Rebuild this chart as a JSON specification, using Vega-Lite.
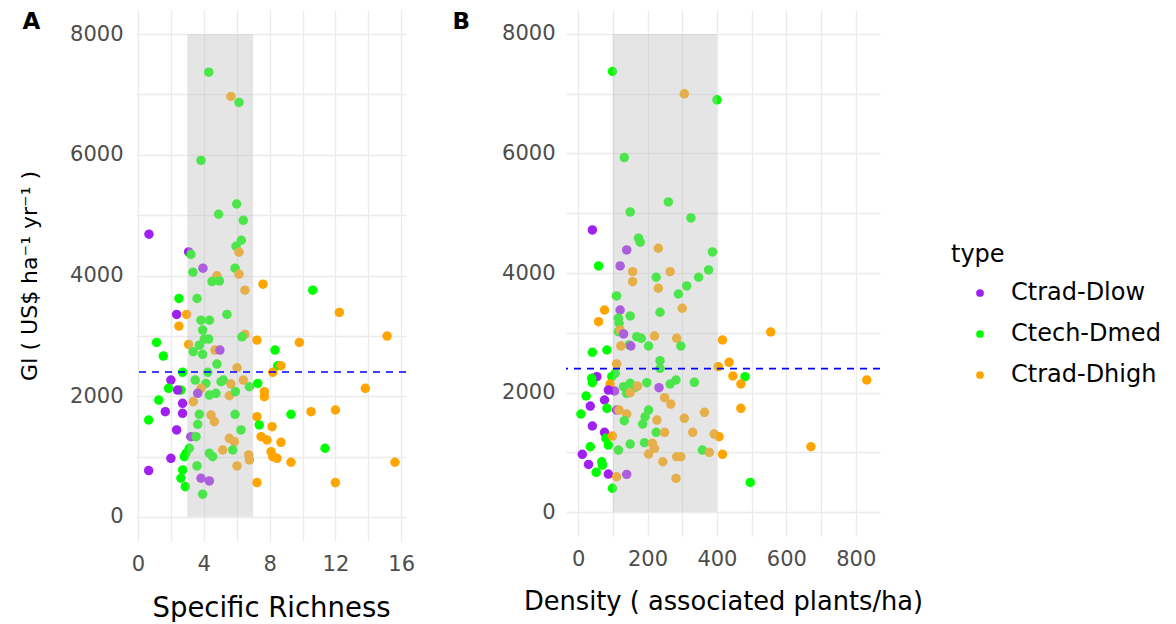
{
  "$schema": "https://vega.github.io/schema/vega-lite/v6.json",
  "padding": {"left": 18, "top": 10, "right": 0, "bottom": 0},
  "background": "white",
  "spacing": 37,
  "config": {
    "font": "DejaVu Sans",
    "view": {"stroke": null},
    "axis": {
      "grid": true, "gridColor": "#ebebeb", "gridWidth": 1.3,
      "domain": false, "ticks": false,
      "labelColor": "#4d4d4d", "labelFontSize": 21, "labelFont": "DejaVu Sans",
      "titleFont": "DejaVu Sans", "titleFontWeight": "normal", "titleColor": "#000000", "titleFontSize": 26.5
    },
    "title": {"font": "DejaVu Sans", "fontWeight": "bold", "fontSize": 23, "anchor": "start", "frame": "bounds", "color": "#000000"}
  },
  "datasets": {
    "a": [
      {"x":4.3,"y":7370,"t":"Ctech-Dmed"},{"x":5.65,"y":6967,"t":"Ctrad-Dhigh"},{"x":6.14,"y":6868,"t":"Ctech-Dmed"},
      {"x":3.83,"y":5908,"t":"Ctech-Dmed"},{"x":6.0,"y":5185,"t":"Ctech-Dmed"},{"x":4.9,"y":5015,"t":"Ctech-Dmed"},
      {"x":6.4,"y":4915,"t":"Ctech-Dmed"},{"x":0.67,"y":4684,"t":"Ctrad-Dlow"},{"x":6.28,"y":4584,"t":"Ctech-Dmed"},
      {"x":5.96,"y":4485,"t":"Ctech-Dmed"},{"x":6.14,"y":4386,"t":"Ctrad-Dhigh"},{"x":3.08,"y":4391,"t":"Ctrad-Dlow"},
      {"x":3.22,"y":4348,"t":"Ctech-Dmed"},{"x":3.95,"y":4121,"t":"Ctrad-Dlow"},{"x":3.34,"y":4055,"t":"Ctech-Dmed"},
      {"x":5.9,"y":4121,"t":"Ctech-Dmed"},{"x":4.8,"y":3994,"t":"Ctrad-Dhigh"},{"x":6.14,"y":4022,"t":"Ctrad-Dhigh"},
      {"x":4.5,"y":3900,"t":"Ctech-Dmed"},{"x":4.95,"y":3910,"t":"Ctech-Dmed"},{"x":6.5,"y":3757,"t":"Ctrad-Dhigh"},
      {"x":7.6,"y":3856,"t":"Ctrad-Dhigh"},{"x":2.49,"y":3619,"t":"Ctech-Dmed"},{"x":3.59,"y":3619,"t":"Ctech-Dmed"},
      {"x":2.35,"y":3355,"t":"Ctrad-Dlow"},{"x":2.96,"y":3355,"t":"Ctrad-Dhigh"},{"x":2.49,"y":3161,"t":"Ctrad-Dhigh"},
      {"x":3.83,"y":3260,"t":"Ctech-Dmed"},{"x":4.34,"y":3260,"t":"Ctech-Dmed"},{"x":5.41,"y":3355,"t":"Ctech-Dmed"},
      {"x":3.93,"y":3095,"t":"Ctech-Dmed"},{"x":4.03,"y":2946,"t":"Ctech-Dmed"},{"x":4.3,"y":2946,"t":"Ctech-Dmed"},
      {"x":6.5,"y":3023,"t":"Ctrad-Dhigh"},{"x":6.32,"y":2984,"t":"Ctech-Dmed"},{"x":3.08,"y":2858,"t":"Ctrad-Dhigh"},
      {"x":3.73,"y":2846,"t":"Ctech-Dmed"},{"x":4.68,"y":2764,"t":"Ctrad-Dhigh"},{"x":4.98,"y":2764,"t":"Ctrad-Dlow"},
      {"x":3.36,"y":2736,"t":"Ctech-Dmed"},{"x":3.93,"y":2693,"t":"Ctech-Dmed"},{"x":7.23,"y":2929,"t":"Ctrad-Dhigh"},
      {"x":1.13,"y":2891,"t":"Ctech-Dmed"},{"x":1.54,"y":2665,"t":"Ctech-Dmed"},{"x":4.8,"y":2532,"t":"Ctech-Dmed"},
      {"x":6.02,"y":2471,"t":"Ctrad-Dhigh"},{"x":2.71,"y":2395,"t":"Ctech-Dmed"},{"x":4.24,"y":2395,"t":"Ctech-Dmed"},
      {"x":6.4,"y":2267,"t":"Ctrad-Dhigh"},{"x":2.0,"y":2267,"t":"Ctrad-Dlow"},{"x":1.86,"y":2130,"t":"Ctech-Dmed"},
      {"x":2.61,"y":2102,"t":"Ctech-Dmed"},{"x":2.41,"y":2102,"t":"Ctrad-Dlow"},{"x":3.48,"y":2267,"t":"Ctech-Dmed"},
      {"x":4.13,"y":2212,"t":"Ctech-Dmed"},{"x":3.83,"y":2130,"t":"Ctrad-Dhigh"},{"x":3.63,"y":2047,"t":"Ctrad-Dlow"},
      {"x":4.34,"y":2019,"t":"Ctech-Dmed"},{"x":4.74,"y":2047,"t":"Ctech-Dmed"},{"x":5.05,"y":2240,"t":"Ctech-Dmed"},
      {"x":5.19,"y":2267,"t":"Ctech-Dmed"},{"x":5.65,"y":2201,"t":"Ctrad-Dhigh"},{"x":5.55,"y":2007,"t":"Ctrad-Dhigh"},
      {"x":5.92,"y":2074,"t":"Ctech-Dmed"},{"x":6.77,"y":2156,"t":"Ctech-Dmed"},{"x":7.28,"y":2212,"t":"Ctech-Dmed"},
      {"x":7.68,"y":2074,"t":"Ctrad-Dhigh"},{"x":7.68,"y":1991,"t":"Ctrad-Dhigh"},{"x":1.26,"y":1936,"t":"Ctech-Dmed"},
      {"x":1.66,"y":1743,"t":"Ctrad-Dlow"},{"x":0.65,"y":1605,"t":"Ctech-Dmed"},{"x":2.71,"y":1881,"t":"Ctrad-Dlow"},
      {"x":2.71,"y":1716,"t":"Ctrad-Dlow"},{"x":3.36,"y":1908,"t":"Ctrad-Dhigh"},{"x":3.73,"y":1699,"t":"Ctech-Dmed"},
      {"x":3.63,"y":1534,"t":"Ctech-Dmed"},{"x":4.44,"y":1688,"t":"Ctrad-Dhigh"},{"x":4.64,"y":1577,"t":"Ctrad-Dhigh"},
      {"x":5.9,"y":1699,"t":"Ctech-Dmed"},{"x":7.23,"y":1660,"t":"Ctrad-Dhigh"},{"x":7.37,"y":1523,"t":"Ctech-Dmed"},
      {"x":8.15,"y":1494,"t":"Ctrad-Dhigh"},{"x":2.35,"y":1440,"t":"Ctrad-Dlow"},{"x":3.22,"y":1329,"t":"Ctrad-Dlow"},
      {"x":3.53,"y":1329,"t":"Ctech-Dmed"},{"x":6.26,"y":1440,"t":"Ctech-Dmed"},{"x":5.55,"y":1302,"t":"Ctrad-Dhigh"},
      {"x":5.86,"y":1246,"t":"Ctrad-Dhigh"},{"x":7.48,"y":1329,"t":"Ctrad-Dhigh"},{"x":7.84,"y":1274,"t":"Ctrad-Dhigh"},
      {"x":3.12,"y":1137,"t":"Ctech-Dmed"},{"x":2.92,"y":1054,"t":"Ctech-Dmed"},{"x":2.82,"y":998,"t":"Ctech-Dmed"},
      {"x":5.15,"y":1109,"t":"Ctrad-Dhigh"},{"x":5.76,"y":1109,"t":"Ctech-Dmed"},{"x":4.34,"y":1054,"t":"Ctech-Dmed"},
      {"x":4.54,"y":998,"t":"Ctech-Dmed"},{"x":6.73,"y":1026,"t":"Ctrad-Dhigh"},{"x":6.77,"y":943,"t":"Ctrad-Dhigh"},
      {"x":8.09,"y":1081,"t":"Ctrad-Dhigh"},{"x":8.19,"y":998,"t":"Ctrad-Dhigh"},{"x":2.0,"y":971,"t":"Ctrad-Dlow"},
      {"x":0.65,"y":767,"t":"Ctrad-Dlow"},{"x":3.59,"y":844,"t":"Ctech-Dmed"},{"x":6.02,"y":844,"t":"Ctrad-Dhigh"},
      {"x":2.72,"y":778,"t":"Ctech-Dmed"},{"x":2.61,"y":640,"t":"Ctech-Dmed"},{"x":2.88,"y":501,"t":"Ctech-Dmed"},
      {"x":3.83,"y":640,"t":"Ctrad-Dlow"},{"x":4.34,"y":596,"t":"Ctrad-Dlow"},{"x":7.23,"y":568,"t":"Ctrad-Dhigh"},
      {"x":3.93,"y":376,"t":"Ctech-Dmed"},{"x":10.62,"y":3757,"t":"Ctech-Dmed"},{"x":12.24,"y":3388,"t":"Ctrad-Dhigh"},
      {"x":15.14,"y":2996,"t":"Ctrad-Dhigh"},{"x":9.81,"y":2891,"t":"Ctrad-Dhigh"},{"x":8.33,"y":2764,"t":"Ctech-Dmed"},
      {"x":8.49,"y":2504,"t":"Ctech-Dmed"},{"x":8.69,"y":2504,"t":"Ctrad-Dhigh"},{"x":8.19,"y":2395,"t":"Ctrad-Dhigh"},
      {"x":13.82,"y":2130,"t":"Ctrad-Dhigh"},{"x":9.3,"y":1699,"t":"Ctech-Dmed"},{"x":10.52,"y":1743,"t":"Ctrad-Dhigh"},
      {"x":12.0,"y":1771,"t":"Ctrad-Dhigh"},{"x":8.69,"y":1236,"t":"Ctrad-Dhigh"},{"x":8.45,"y":971,"t":"Ctrad-Dhigh"},
      {"x":9.3,"y":905,"t":"Ctrad-Dhigh"},{"x":11.37,"y":1137,"t":"Ctech-Dmed"},{"x":15.62,"y":905,"t":"Ctrad-Dhigh"},
      {"x":12.0,"y":568,"t":"Ctrad-Dhigh"}
    ],
    "b": [
      {"x":99,"y":7371,"t":"Ctech-Dmed"},{"x":306,"y":6997,"t":"Ctrad-Dhigh"},{"x":400,"y":6897,"t":"Ctech-Dmed"},
      {"x":133,"y":5931,"t":"Ctech-Dmed"},{"x":260,"y":5189,"t":"Ctech-Dmed"},{"x":150,"y":5022,"t":"Ctech-Dmed"},
      {"x":325,"y":4922,"t":"Ctech-Dmed"},{"x":41,"y":4721,"t":"Ctrad-Dlow"},{"x":174,"y":4582,"t":"Ctech-Dmed"},
      {"x":179,"y":4515,"t":"Ctech-Dmed"},{"x":140,"y":4386,"t":"Ctrad-Dlow"},{"x":231,"y":4414,"t":"Ctrad-Dhigh"},
      {"x":387,"y":4352,"t":"Ctech-Dmed"},{"x":59,"y":4118,"t":"Ctech-Dmed"},{"x":121,"y":4118,"t":"Ctrad-Dlow"},
      {"x":157,"y":4023,"t":"Ctrad-Dhigh"},{"x":265,"y":4023,"t":"Ctrad-Dhigh"},{"x":376,"y":4051,"t":"Ctech-Dmed"},
      {"x":225,"y":3929,"t":"Ctech-Dmed"},{"x":347,"y":3929,"t":"Ctech-Dmed"},{"x":157,"y":3855,"t":"Ctrad-Dhigh"},
      {"x":231,"y":3745,"t":"Ctrad-Dhigh"},{"x":313,"y":3783,"t":"Ctech-Dmed"},{"x":289,"y":3649,"t":"Ctech-Dmed"},
      {"x":111,"y":3616,"t":"Ctech-Dmed"},{"x":76,"y":3381,"t":"Ctrad-Dhigh"},{"x":59,"y":3186,"t":"Ctrad-Dhigh"},
      {"x":121,"y":3381,"t":"Ctrad-Dlow"},{"x":150,"y":3281,"t":"Ctech-Dmed"},{"x":236,"y":3343,"t":"Ctech-Dmed"},
      {"x":300,"y":3410,"t":"Ctrad-Dhigh"},{"x":116,"y":3242,"t":"Ctech-Dmed"},{"x":118,"y":3159,"t":"Ctech-Dmed"},
      {"x":116,"y":3019,"t":"Ctech-Dmed"},{"x":121,"y":3047,"t":"Ctrad-Dhigh"},{"x":131,"y":2980,"t":"Ctrad-Dlow"},
      {"x":169,"y":2935,"t":"Ctech-Dmed"},{"x":182,"y":2908,"t":"Ctech-Dmed"},{"x":220,"y":2946,"t":"Ctrad-Dhigh"},
      {"x":203,"y":2779,"t":"Ctech-Dmed"},{"x":147,"y":2796,"t":"Ctech-Dmed"},{"x":123,"y":2779,"t":"Ctrad-Dhigh"},
      {"x":152,"y":2779,"t":"Ctrad-Dlow"},{"x":284,"y":2908,"t":"Ctrad-Dhigh"},{"x":296,"y":2779,"t":"Ctech-Dmed"},
      {"x":416,"y":2879,"t":"Ctrad-Dhigh"},{"x":555,"y":3013,"t":"Ctrad-Dhigh"},{"x":41,"y":2673,"t":"Ctech-Dmed"},
      {"x":83,"y":2712,"t":"Ctech-Dmed"},{"x":236,"y":2533,"t":"Ctech-Dmed"},{"x":111,"y":2478,"t":"Ctrad-Dhigh"},
      {"x":236,"y":2405,"t":"Ctech-Dmed"},{"x":404,"y":2432,"t":"Ctrad-Dhigh"},{"x":435,"y":2506,"t":"Ctrad-Dhigh"},
      {"x":107,"y":2322,"t":"Ctech-Dmed"},{"x":97,"y":2265,"t":"Ctech-Dmed"},{"x":54,"y":2265,"t":"Ctrad-Dlow"},
      {"x":39,"y":2238,"t":"Ctech-Dmed"},{"x":41,"y":2165,"t":"Ctech-Dmed"},{"x":446,"y":2277,"t":"Ctrad-Dhigh"},
      {"x":481,"y":2265,"t":"Ctech-Dmed"},{"x":469,"y":2143,"t":"Ctrad-Dhigh"},{"x":832,"y":2210,"t":"Ctrad-Dhigh"},
      {"x":92,"y":2143,"t":"Ctrad-Dhigh"},{"x":131,"y":2098,"t":"Ctech-Dmed"},{"x":150,"y":2154,"t":"Ctech-Dmed"},
      {"x":164,"y":2087,"t":"Ctech-Dmed"},{"x":140,"y":1987,"t":"Ctech-Dmed"},{"x":150,"y":1997,"t":"Ctrad-Dhigh"},
      {"x":171,"y":2109,"t":"Ctrad-Dhigh"},{"x":87,"y":2042,"t":"Ctrad-Dlow"},{"x":105,"y":2026,"t":"Ctrad-Dlow"},
      {"x":233,"y":2081,"t":"Ctrad-Dlow"},{"x":198,"y":2165,"t":"Ctech-Dmed"},{"x":265,"y":2143,"t":"Ctech-Dmed"},
      {"x":282,"y":2210,"t":"Ctech-Dmed"},{"x":335,"y":2171,"t":"Ctech-Dmed"},{"x":23,"y":1942,"t":"Ctech-Dmed"},
      {"x":35,"y":1774,"t":"Ctrad-Dlow"},{"x":76,"y":1875,"t":"Ctrad-Dlow"},{"x":83,"y":1736,"t":"Ctech-Dmed"},
      {"x":8,"y":1641,"t":"Ctech-Dmed"},{"x":249,"y":1914,"t":"Ctrad-Dhigh"},{"x":267,"y":1808,"t":"Ctrad-Dhigh"},
      {"x":111,"y":1707,"t":"Ctrad-Dlow"},{"x":118,"y":1707,"t":"Ctrad-Dhigh"},{"x":140,"y":1641,"t":"Ctrad-Dhigh"},
      {"x":203,"y":1707,"t":"Ctech-Dmed"},{"x":193,"y":1595,"t":"Ctech-Dmed"},{"x":186,"y":1473,"t":"Ctech-Dmed"},
      {"x":364,"y":1669,"t":"Ctrad-Dhigh"},{"x":306,"y":1568,"t":"Ctrad-Dhigh"},{"x":469,"y":1736,"t":"Ctrad-Dhigh"},
      {"x":133,"y":1528,"t":"Ctech-Dmed"},{"x":227,"y":1540,"t":"Ctrad-Dhigh"},{"x":41,"y":1440,"t":"Ctrad-Dlow"},
      {"x":76,"y":1334,"t":"Ctrad-Dlow"},{"x":80,"y":1234,"t":"Ctech-Dmed"},{"x":87,"y":1122,"t":"Ctech-Dmed"},
      {"x":99,"y":1272,"t":"Ctrad-Dhigh"},{"x":225,"y":1334,"t":"Ctech-Dmed"},{"x":249,"y":1334,"t":"Ctrad-Dhigh"},
      {"x":330,"y":1334,"t":"Ctrad-Dhigh"},{"x":392,"y":1306,"t":"Ctrad-Dhigh"},{"x":406,"y":1261,"t":"Ctrad-Dhigh"},
      {"x":35,"y":1093,"t":"Ctech-Dmed"},{"x":116,"y":1038,"t":"Ctech-Dmed"},{"x":150,"y":1138,"t":"Ctech-Dmed"},
      {"x":191,"y":1160,"t":"Ctech-Dmed"},{"x":214,"y":1150,"t":"Ctrad-Dhigh"},{"x":220,"y":1066,"t":"Ctrad-Dhigh"},
      {"x":203,"y":971,"t":"Ctrad-Dhigh"},{"x":244,"y":842,"t":"Ctrad-Dhigh"},{"x":284,"y":926,"t":"Ctrad-Dhigh"},
      {"x":296,"y":926,"t":"Ctrad-Dhigh"},{"x":358,"y":1038,"t":"Ctech-Dmed"},{"x":378,"y":999,"t":"Ctrad-Dhigh"},
      {"x":416,"y":966,"t":"Ctrad-Dhigh"},{"x":671,"y":1093,"t":"Ctrad-Dhigh"},{"x":12,"y":966,"t":"Ctrad-Dlow"},
      {"x":30,"y":798,"t":"Ctrad-Dlow"},{"x":68,"y":842,"t":"Ctech-Dmed"},{"x":70,"y":787,"t":"Ctech-Dmed"},
      {"x":52,"y":665,"t":"Ctech-Dmed"},{"x":87,"y":636,"t":"Ctrad-Dlow"},{"x":111,"y":591,"t":"Ctrad-Dhigh"},
      {"x":140,"y":631,"t":"Ctrad-Dlow"},{"x":99,"y":397,"t":"Ctech-Dmed"},{"x":282,"y":564,"t":"Ctrad-Dhigh"},
      {"x":496,"y":497,"t":"Ctech-Dmed"}
    ]
  },
  "hconcat": [
    {
      "width": 270, "height": 531,
      "title": {"text": "A", "offset": -24, "dx": 4},
      "layer": [
        {
          "data": {"name": "a"},
          "mark": {"type": "circle", "size": 90, "opacity": 1},
          "encoding": {
            "x": {"field": "x", "type": "quantitative", "scale": {"domain": [-0.12, 16.29], "nice": false, "zero": false},
                  "axis": {"values": [0,2,4,6,8,10,12,14,16], "labelExpr": "datum.value % 4 === 0 ? datum.label : ''", "title": "Specific Richness", "titleFontSize": 27.5, "labelPadding": 12, "titlePadding": 20}},
            "y": {"field": "y", "type": "quantitative", "scale": {"domain": [-400, 8400], "nice": false, "zero": false},
                  "axis": {"values": [0,1000,2000,3000,4000,5000,6000,7000,8000], "labelExpr": "datum.value % 2000 === 0 ? datum.label : ''", "format": "d", "title": "GI ( US$ ha⁻¹ yr⁻¹ )", "titleFontSize": 22, "labelPadding": 13, "titlePadding": 28}},
            "color": {"field": "t", "type": "nominal",
                      "scale": {"domain": ["Ctrad-Dlow", "Ctech-Dmed", "Ctrad-Dhigh"], "range": ["#a020f0", "#00ff00", "#ffa500"]},
                      "legend": {"title": "type", "orient": "none", "legendX": 815, "legendY": 233,
                                 "titleFontSize": 24, "titleFontWeight": "normal", "titleColor": "#000000", "titlePadding": 14,
                                 "labelFontSize": 24, "labelColor": "#000000", "symbolType": "circle", "symbolSize": 60,
                                 "symbolStrokeWidth": 0, "symbolOpacity": 1, "rowPadding": 17, "labelOffset": 19, "symbolOffset": 17}}
          }
        },
        {
          "data": {"values": [{"x": 3, "x2": 7, "y": 0, "y2": 8000}]},
          "mark": {"type": "rect", "color": "#bebebe", "opacity": 0.4},
          "encoding": {
            "x": {"field": "x", "type": "quantitative", "scale": {"domain": [-0.12, 16.29], "nice": false, "zero": false},
                  "axis": {"values": [0,2,4,6,8,10,12,14,16], "labelExpr": "datum.value % 4 === 0 ? datum.label : ''", "title": "Specific Richness", "titleFontSize": 27.5, "labelPadding": 12, "titlePadding": 20}},
            "x2": {"field": "x2"},
            "y": {"field": "y", "type": "quantitative", "scale": {"domain": [-400, 8400], "nice": false, "zero": false},
                  "axis": {"values": [0,1000,2000,3000,4000,5000,6000,7000,8000], "labelExpr": "datum.value % 2000 === 0 ? datum.label : ''", "format": "d", "title": "GI ( US$ ha⁻¹ yr⁻¹ )", "titleFontSize": 22, "labelPadding": 13, "titlePadding": 28}},
            "y2": {"field": "y2"}
          }
        },
        {
          "data": {"values": [{"y": 2400}]},
          "mark": {"type": "rule", "color": "#0000ff", "strokeDash": [7, 6], "strokeWidth": 1.6},
          "encoding": {
            "y": {"field": "y", "type": "quantitative", "scale": {"domain": [-400, 8400], "nice": false, "zero": false},
                  "axis": {"values": [0,1000,2000,3000,4000,5000,6000,7000,8000], "labelExpr": "datum.value % 2000 === 0 ? datum.label : ''", "format": "d", "title": "GI ( US$ ha⁻¹ yr⁻¹ )", "titleFontSize": 22, "labelPadding": 13, "titlePadding": 28}}
          }
        }
      ]
    },
    {
      "width": 314, "height": 526,
      "title": {"text": "B", "offset": -24, "dx": -49},
      "layer": [
        {
          "data": {"name": "b"},
          "mark": {"type": "circle", "size": 90, "opacity": 1},
          "encoding": {
            "x": {"field": "x", "type": "quantitative", "scale": {"domain": [-35, 870], "nice": false, "zero": false},
                  "axis": {"values": [0,100,200,300,400,500,600,700,800], "labelExpr": "datum.value % 200 === 0 ? datum.label : ''", "title": "Density ( associated plants/ha)", "titleFontSize": 25.7, "labelPadding": 12, "titlePadding": 20}},
            "y": {"field": "y", "type": "quantitative", "scale": {"domain": [-400, 8400], "nice": false, "zero": false},
                  "axis": {"values": [0,1000,2000,3000,4000,5000,6000,7000,8000], "labelExpr": "datum.value % 2000 === 0 ? datum.label : ''", "format": "d", "title": null, "labelPadding": 11}},
            "color": {"field": "t", "type": "nominal",
                      "scale": {"domain": ["Ctrad-Dlow", "Ctech-Dmed", "Ctrad-Dhigh"], "range": ["#a020f0", "#00ff00", "#ffa500"]}}
          }
        },
        {
          "data": {"values": [{"x": 100, "x2": 400, "y": 0, "y2": 8000}]},
          "mark": {"type": "rect", "color": "#bebebe", "opacity": 0.4},
          "encoding": {
            "x": {"field": "x", "type": "quantitative", "scale": {"domain": [-35, 870], "nice": false, "zero": false},
                  "axis": {"values": [0,100,200,300,400,500,600,700,800], "labelExpr": "datum.value % 200 === 0 ? datum.label : ''", "title": "Density ( associated plants/ha)", "titleFontSize": 25.7, "labelPadding": 12, "titlePadding": 20}},
            "x2": {"field": "x2"},
            "y": {"field": "y", "type": "quantitative", "scale": {"domain": [-400, 8400], "nice": false, "zero": false},
                  "axis": {"values": [0,1000,2000,3000,4000,5000,6000,7000,8000], "labelExpr": "datum.value % 2000 === 0 ? datum.label : ''", "format": "d", "title": null, "labelPadding": 11}},
            "y2": {"field": "y2"}
          }
        },
        {
          "data": {"values": [{"y": 2400}]},
          "mark": {"type": "rule", "color": "#0000ff", "strokeDash": [7, 6], "strokeWidth": 1.6},
          "encoding": {
            "y": {"field": "y", "type": "quantitative", "scale": {"domain": [-400, 8400], "nice": false, "zero": false},
                  "axis": {"values": [0,1000,2000,3000,4000,5000,6000,7000,8000], "labelExpr": "datum.value % 2000 === 0 ? datum.label : ''", "format": "d", "title": null, "labelPadding": 11}}
          }
        }
      ]
    }
  ]
}
